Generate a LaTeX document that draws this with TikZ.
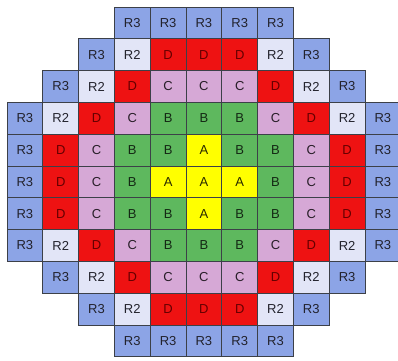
\documentclass[tikz,border=0pt]{standalone}
\usepackage{fontspec}
\setmainfont{Liberation Sans}
% cell fills
\definecolor{colR3}{RGB}{140,164,230}
\definecolor{colR2}{RGB}{226,229,247}
\definecolor{colD}{RGB}{238,18,18}
\definecolor{colC}{RGB}{214,168,214}
\definecolor{colB}{RGB}{94,184,94}
\definecolor{colA}{RGB}{255,255,0}
% label colours
\definecolor{txtR3}{RGB}{34,34,44}
\definecolor{txtR2}{RGB}{34,34,44}
\definecolor{txtD}{RGB}{100,0,0}
\definecolor{txtC}{RGB}{40,30,40}
\definecolor{txtB}{RGB}{20,40,20}
\definecolor{txtA}{RGB}{40,40,0}
\definecolor{gridline}{RGB}{60,64,72}
\tikzset{
  cell/.style={draw=gridline, line width=0.8pt, minimum width=35.8pt,
    minimum height=31.8pt, inner sep=0pt, font=\fontsize{13}{14}\selectfont}
}
\begin{document}
\begin{tikzpicture}[x=1pt,y=1pt]
\useasboundingbox (0,0) rectangle (398,360);
\foreach \r/\s/\labels in {
  0/3/{R3,R3,R3,R3,R3},
  1/2/{R3,R2,D,D,D,R2,R3},
  2/1/{R3,R2,D,C,C,C,D,R2,R3},
  3/0/{R3,R2,D,C,B,B,B,C,D,R2,R3},
  4/0/{R3,D,C,B,B,A,B,B,C,D,R3},
  5/0/{R3,D,C,B,A,A,A,B,C,D,R3},
  6/0/{R3,D,C,B,B,A,B,B,C,D,R3},
  7/0/{R3,R2,D,C,B,B,B,C,D,R2,R3},
  8/1/{R3,R2,D,C,C,C,D,R2,R3},
  9/2/{R3,R2,D,D,D,R2,R3},
  10/3/{R3,R3,R3,R3,R3}}
{
  \foreach \lab [count=\i from 0] in \labels {
    \pgfmathsetmacro{\cx}{7+35.8*(\s+\i+0.5)}
    \pgfmathsetmacro{\cy}{360-(7+31.8*(\r+0.5))}
    \node[cell, fill=col\lab, text=txt\lab] (cell-\r-\i) at (\cx,\cy) {\lab};
  }
}
\end{tikzpicture}
\end{document}
